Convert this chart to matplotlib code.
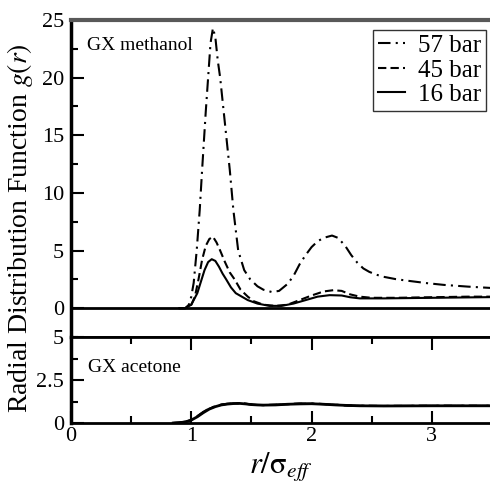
import matplotlib
matplotlib.use("Agg")
import matplotlib.pyplot as plt
from matplotlib.ticker import MultipleLocator
from matplotlib.lines import Line2D

plt.rcParams['font.family'] = ['Liberation Serif', 'DejaVu Serif']
plt.rcParams['mathtext.fontset'] = 'stix'

# ---- data ----
r57 = [0.90, 0.95, 0.98, 1.00, 1.02, 1.045, 1.07, 1.09, 1.12, 1.14, 1.16, 1.18, 1.20, 1.22,
       1.24, 1.28, 1.32, 1.35, 1.39, 1.44, 1.49, 1.55, 1.60, 1.67, 1.73, 1.80, 1.85, 1.90,
       1.95, 2.00, 2.05, 2.10, 2.17, 2.22, 2.28, 2.33, 2.38, 2.43, 2.48, 2.54, 2.60, 2.70,
       2.80, 2.96, 3.10, 3.30, 3.50]
g57 = [0.0, 0.0, 0.3, 1.0, 2.2, 5.0, 8.5, 12.0, 17.0, 20.0, 23.0, 24.3, 23.5, 21.5,
       20.0, 16.0, 12.0, 8.5, 5.0, 3.3, 2.5, 1.9, 1.6, 1.4, 1.5, 2.1, 2.8, 3.8,
       4.6, 5.3, 5.8, 6.1, 6.3, 6.1, 5.4, 4.6, 3.95, 3.45, 3.15, 2.9, 2.72, 2.52,
       2.38, 2.17, 2.02, 1.87, 1.75]

r45 = [0.90, 0.95, 1.00, 1.03, 1.06, 1.09, 1.12, 1.15, 1.18, 1.21, 1.24, 1.28, 1.32, 1.36,
       1.41, 1.47, 1.52, 1.60, 1.70, 1.80, 1.90, 2.00, 2.10, 2.18, 2.25, 2.32, 2.40, 2.50,
       2.70, 3.00, 3.30, 3.50]
g45 = [0.0, 0.0, 0.3, 1.0, 2.5, 4.2, 5.4, 6.0, 6.2, 5.7, 5.0, 4.0, 3.1, 2.5,
       1.6, 1.0, 0.6, 0.3, 0.2, 0.3, 0.7, 1.1, 1.45, 1.56, 1.5, 1.2, 1.0, 0.9,
       0.9, 0.95, 1.0, 1.0]

r16 = [0.90, 0.95, 1.00, 1.05, 1.08, 1.11, 1.14, 1.17, 1.20, 1.23, 1.26, 1.29, 1.33, 1.37,
       1.42, 1.47, 1.55, 1.65, 1.75, 1.85, 1.95, 2.05, 2.15, 2.25, 2.32, 2.40, 2.60, 3.00,
       3.50]
g16 = [0.0, 0.0, 0.3, 1.3, 2.3, 3.3, 4.0, 4.25, 4.1, 3.6, 3.0, 2.5, 1.8, 1.3,
       1.0, 0.7, 0.4, 0.2, 0.2, 0.4, 0.7, 1.0, 1.13, 1.1, 0.95, 0.85, 0.85, 0.9,
       0.96]

ra = [0.85, 0.90, 0.95, 1.00, 1.05, 1.10, 1.15, 1.20, 1.25, 1.30, 1.35, 1.40, 1.45, 1.50,
      1.55, 1.60, 1.70, 1.80, 1.90, 2.00, 2.10, 2.20, 2.30, 2.40, 2.60, 3.00, 3.50]
ga57 = [0.0, 0.02, 0.08, 0.2, 0.4, 0.65, 0.85, 0.98, 1.07, 1.12, 1.15, 1.15, 1.12, 1.08,
        1.05, 1.04, 1.06, 1.10, 1.13, 1.13, 1.10, 1.06, 1.02, 1.00, 0.99, 1.00, 1.00]
ga45 = [0.0, 0.02, 0.07, 0.18, 0.38, 0.62, 0.83, 0.97, 1.06, 1.11, 1.14, 1.14, 1.12, 1.08,
        1.05, 1.04, 1.06, 1.09, 1.12, 1.12, 1.10, 1.06, 1.02, 1.00, 0.99, 1.00, 1.00]
ga16 = [0.0, 0.02, 0.06, 0.17, 0.36, 0.60, 0.81, 0.95, 1.05, 1.10, 1.13, 1.14, 1.11, 1.07,
        1.05, 1.04, 1.05, 1.09, 1.11, 1.12, 1.09, 1.05, 1.02, 1.00, 0.99, 1.00, 1.00]

labels = ['57 bar', '45 bar', '16 bar']
xticks = [0, 1, 2, 3]
yticks_top = [0, 5, 10, 15, 20, 25]
yticks_bot = [0, 2.5, 5]
ytick_bot_labels = ['0', '2.5', '5']

# ---- styles ----
ls57 = (0, (6, 2.5, 1, 2.5))
ls45 = (0, (4, 2))
ls16 = '-'
lw = 1.5

fig = plt.figure(figsize=(4.9, 4.87), dpi=100)
W, H = 490, 487
ax1 = fig.add_axes([71 / W, (H - 337) / H, (492 - 71) / W, (337 - 20) / H])
ax2 = fig.add_axes([71 / W, (H - 423) / H, (492 - 71) / W, (423 - 337) / H])

for ax in (ax1, ax2):
    ax.set_xlim(0, 3.5)
    for s in ax.spines.values():
        s.set_linewidth(2.0)
    ax.spines['left'].set_linewidth(2.5)
    ax.spines['right'].set_visible(False)

# top panel
ax1.plot(r57, g57, color='black', lw=lw, ls=ls57)
ax1.plot(r45, g45, color='black', lw=lw, ls=ls45)
ax1.plot(r16, g16, color='black', lw=lw, ls=ls16)
ax1.axhline(0, color='black', lw=2.0)
ax1.set_ylim(-2.5, 25)
ax1.set_yticks(yticks_top)
ax1.yaxis.set_minor_locator(MultipleLocator(2.5))
ax1.set_xticks([])
ax1.tick_params(axis='y', which='major', direction='in', length=9, width=1.5,
                labelsize=16, pad=5)
ax1.tick_params(axis='y', which='minor', direction='in', length=5, width=1.5)
ax1.tick_params(axis='x', which='both', bottom=False, top=False, labelbottom=False)
ax1.spines['top'].set_color('0.35')
ax1.spines['top'].set_linewidth(3.0)
ax1.text(0.038, 0.918, 'GX methanol', transform=ax1.transAxes, fontsize=14,
         ha='left', va='center')

handles = [Line2D([], [], color='black', lw=lw, ls=ls57),
           Line2D([], [], color='black', lw=lw, ls=ls45),
           Line2D([], [], color='black', lw=lw, ls=ls16)]
leg = ax1.legend(handles, labels, loc='upper right', bbox_to_anchor=(0.9855, 0.97),
                 fontsize=18, frameon=True, fancybox=False, handlelength=1.1,
                 handletextpad=0.5, borderpad=0.2, labelspacing=0.08,
                 borderaxespad=0.0)
leg.get_frame().set_edgecolor('black')
leg.get_frame().set_linewidth(1.0)

# bottom panel
ax2.plot(ra, ga57, color='black', lw=lw, ls=ls57)
ax2.plot(ra, ga45, color='black', lw=lw, ls=ls45)
ax2.plot(ra, ga16, color='black', lw=2.0, ls=ls16)
ax2.set_ylim(0, 5)
ax2.set_yticks(yticks_bot)
ax2.set_yticklabels(ytick_bot_labels)
ax2.yaxis.set_minor_locator(MultipleLocator(1.25))
ax2.set_xticks(xticks)
ax2.xaxis.set_minor_locator(MultipleLocator(0.5))
ax2.tick_params(axis='both', which='major', direction='in', length=9, width=1.5,
                labelsize=16, top=True)
ax2.tick_params(axis='both', which='minor', direction='in', length=5, width=1.5,
                top=True)
ax2.tick_params(axis='x', pad=3)
ax2.tick_params(axis='y', pad=5)
ax2.text(0.04, 0.65, 'GX acetone', transform=ax2.transAxes, fontsize=14,
         ha='left', va='center')

ax2.set_xlabel(r'$r/\mathrm{\sigma}_{eff}$', fontsize=22, labelpad=3)
fig.text(0.04, (H - 228) / H, r'Radial Distribution Function $g(r)$', rotation=90,
         fontsize=20, ha='center', va='center')

fig.savefig('out.png', dpi=100)
